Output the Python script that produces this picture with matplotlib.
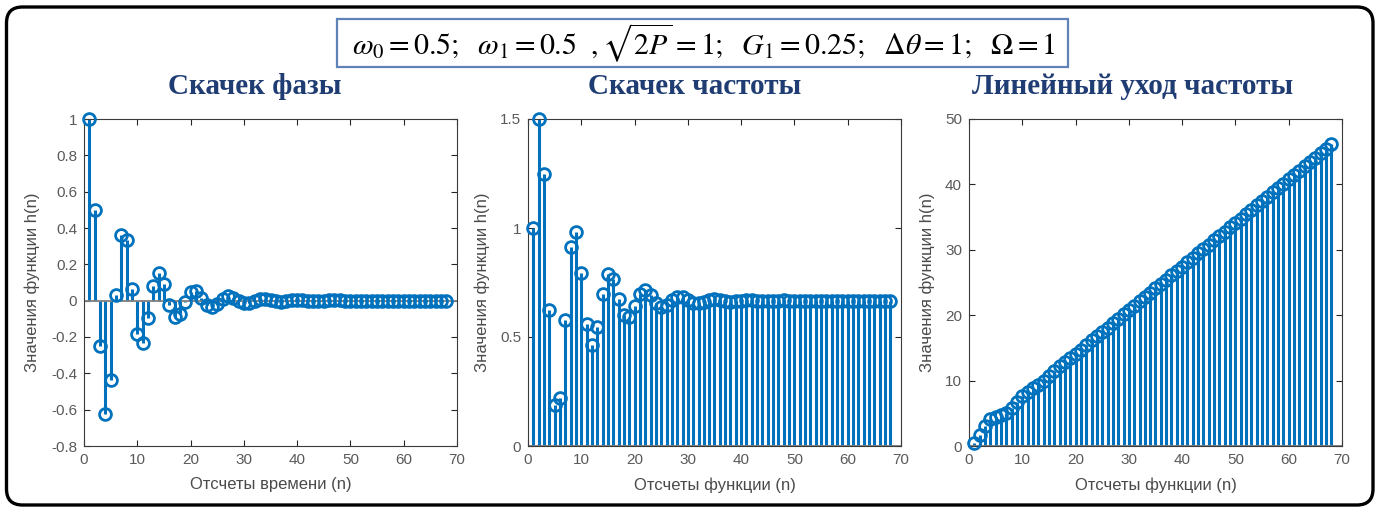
import numpy as np
import matplotlib
matplotlib.use("Agg")
import matplotlib.pyplot as plt
from matplotlib.patches import FancyBboxPatch, Rectangle
from matplotlib.ticker import FuncFormatter

plt.rcParams["font.family"] = ["Liberation Sans", "DejaVu Sans"]
plt.rcParams["mathtext.fontset"] = "stix"
plt.rcParams["axes.unicode_minus"] = False

# отсчеты n = 1..68
n = np.arange(1, 69)

# скачек фазы
h_phase = [
    1.0, 0.5, -0.25, -0.625, -0.438, 0.031, 0.359, 0.336, 0.066, -0.186,
    -0.235, -0.096, 0.080, 0.152, 0.092, -0.022, -0.091, -0.075, -0.006, 0.050,
    0.054, 0.017, -0.024, -0.037, -0.019, 0.009, 0.023, 0.016, -0.001, -0.013,
    -0.012, -0.003, 0.007, 0.009, 0.004, -0.003, -0.006, -0.003, 0.001, 0.003,
    0.003, 0.0, -0.002, -0.002, -0.001, 0.001, 0.001, 0.001, 0.0, -0.001,
    0.0, 0.0, 0.0, 0.0, 0.0, 0.0, 0.0, 0.0, 0.0, 0.0,
    0.0, 0.0, 0.0, 0.0, 0.0, 0.0, 0.0, 0.0,
]

# скачек частоты
h_freq = [
    1.0, 1.5, 1.25, 0.625, 0.188, 0.219, 0.578, 0.914, 0.980, 0.795,
    0.560, 0.463, 0.544, 0.696, 0.788, 0.766, 0.675, 0.600, 0.594, 0.644,
    0.698, 0.715, 0.692, 0.655, 0.636, 0.645, 0.668, 0.684, 0.683, 0.670,
    0.658, 0.655, 0.662, 0.670, 0.674, 0.671, 0.666, 0.662, 0.663, 0.666,
    0.669, 0.669, 0.667, 0.665, 0.665, 0.666, 0.667, 0.668, 0.667, 0.666,
    0.667, 0.667, 0.667, 0.667, 0.667, 0.667, 0.667, 0.667, 0.667, 0.667,
    0.667, 0.667, 0.667, 0.667, 0.667, 0.667, 0.667, 0.667,
]

# линейный уход частоты
h_ramp = [
    0.50, 1.75, 3.125, 4.063, 4.469, 4.672, 5.070, 5.816, 6.764, 7.651,
    8.329, 8.840, 9.344, 9.964, 10.706, 11.483, 12.204, 12.841, 13.438, 14.057,
    14.729, 15.435, 16.139, 16.812, 17.458, 18.099, 18.755, 19.431, 20.114, 20.791,
    21.455, 22.111, 22.769, 23.435, 24.108, 24.780, 25.448, 26.112, 26.775, 27.439,
    28.107, 28.776, 29.444, 30.110, 30.775, 31.440, 32.107, 32.774, 33.441, 34.108,
    34.774, 35.441, 36.108, 36.774, 37.441, 38.108, 38.774, 39.441, 40.108, 40.774,
    41.441, 42.108, 42.775, 43.441, 44.108, 44.775, 45.441, 46.108,
]

titles = ["Скачек фазы", "Скачек частоты", "Линейный уход частоты"]
xlabels = ["Отсчеты времени (n)", "Отсчеты функции (n)", "Отсчеты функции (n)"]
ylabel = "Значения функции h(n)"
series = [h_phase, h_freq, h_ramp]
ylims = [(-0.8, 1.0), (0, 1.5), (0, 50)]
yticks = [np.arange(-0.8, 1.01, 0.2), [0, 0.5, 1, 1.5], np.arange(0, 51, 10)]

blue = "#0072BD"
W, H = 1379, 508

fig = plt.figure(figsize=(W / 100, H / 100), dpi=100)

# рамка вокруг всего рисунка
frame = FancyBboxPatch((0.065, 0.03), 13.665, 4.98,
                       boxstyle="round,pad=0,rounding_size=0.16",
                       transform=fig.dpi_scale_trans, fill=False,
                       edgecolor="black", linewidth=2.4, zorder=0)
fig.patches.append(frame)

# параметры
fig.patches.append(Rectangle((337 / W, 1 - 67 / H), 731 / W, 48 / H,
                             transform=fig.transFigure, fill=False,
                             edgecolor="#5f82b8", linewidth=1.6))
fig.text(704 / W, 1 - 43 / H,
         r"$\omega_0=0.5;\ \ \omega_1=0.5\ \ ,\sqrt{2P}=1;\ \ G_1=0.25;\ \ \Delta\theta=1;\ \ \Omega=1$",
         ha="center", va="center", fontsize=21.5, color="black")

lefts = [84, 528, 969]
ylab_x = [-0.118, -0.102, -0.091]
title_x = [255, 695, 1133]


def fmt(v, p):
    return "%g" % (round(v, 2) + 0.0)


for i in range(3):
    ax = fig.add_axes([lefts[i] / W, 1 - 446 / H, 373 / W, 327 / H])
    markers, stems, base = ax.stem(n, series[i], linefmt="-", markerfmt="o", basefmt="-")
    plt.setp(stems, color=blue, linewidth=2.2)
    plt.setp(markers, color=blue, markerfacecolor="none", markersize=8.5,
             markeredgewidth=2.0, clip_on=False, zorder=4)
    plt.setp(base, color="#7f7f7f", linewidth=1.3)
    base.set_xdata([0, 70])

    ax.set_xlim(0, 70)
    ax.set_ylim(*ylims[i])
    ax.set_xticks(np.arange(0, 71, 10))
    ax.set_yticks(yticks[i])
    ax.yaxis.set_major_formatter(FuncFormatter(fmt))
    ax.tick_params(direction="in", top=True, right=True, length=4, width=0.8,
                   labelsize=11, colors="#262626", labelcolor="#5a5a5a", pad=5)
    for s in ax.spines.values():
        s.set_color("#3a3a3a")
        s.set_linewidth(0.8)

    ax.set_xlabel(xlabels[i], fontsize=12, color="#4a4a4a")
    ax.set_ylabel(ylabel, fontsize=12, color="#4a4a4a")
    ax.xaxis.set_label_coords(0.5, -0.095)
    ax.yaxis.set_label_coords(ylab_x[i], 0.5)

    fig.text(title_x[i] / W, 1 - 87 / H, titles[i], ha="center", va="center",
             fontsize=21, fontweight="bold", color="#1f3d73",
             family=["Liberation Serif", "DejaVu Serif"])

fig.savefig("out.png", dpi=100)
